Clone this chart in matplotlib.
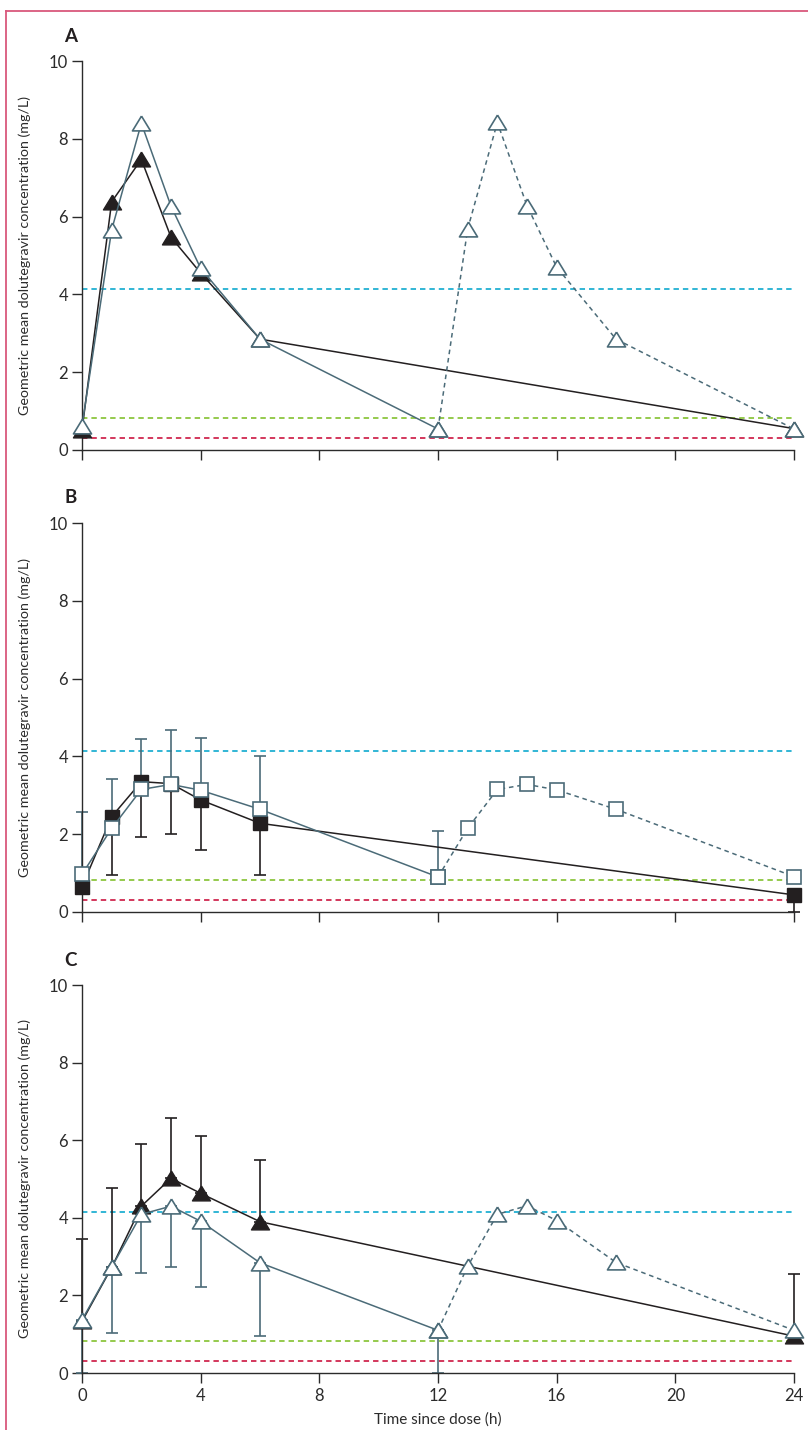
import matplotlib
matplotlib.use("Agg")
import numpy as np
import matplotlib.pyplot as plt
from matplotlib.lines import Line2D

plt.rcParams['font.family'] = ['Lato', 'DejaVu Sans']

# sampling times (h)
t_first = [0, 1, 2, 3, 4, 6, 12]
t_second = [12, 13, 14, 15, 16, 18, 24]
t_black = [0, 1, 2, 3, 4, 6, 24]

# panel A
a_black = [0.52, 6.38, 7.47, 5.47, 4.55, 2.85, 0.55]
a_open = [0.62, 5.66, 8.40, 6.27, 4.67, 2.85, 0.54]
a_open_next = [0.54, 5.68, 8.42, 6.28, 4.70, 2.85, 0.54]

# panel B
b_black = [0.65, 2.45, 3.35, 3.30, 2.88, 2.28, 0.44]
b_black_low = [0.65, 0.95, 1.92, 2.00, 1.59, 0.95, 0.0]
b_open = [0.97, 2.15, 3.15, 3.28, 3.13, 2.64, 0.90]
b_open_high = [2.58, 3.43, 4.45, 4.67, 4.48, 4.01, 2.08]
b_open_next = [0.90, 2.15, 3.15, 3.28, 3.14, 2.64, 0.91]

# panel C
c_black = [1.33, 2.72, 4.30, 5.02, 4.63, 3.90, 0.95]
c_black_high = [3.45, 4.78, 5.90, 6.57, 6.12, 5.50, 2.55]
c_open = [1.37, 2.73, 4.09, 4.30, 3.91, 2.84, 1.10]
c_open_low = [0.0, 1.02, 2.58, 2.74, 2.22, 0.95, 0.0]
c_open_next = [1.10, 2.75, 4.09, 4.31, 3.93, 2.85, 1.10]

# reference concentrations (mg/L)
ref_levels = [4.14, 0.82, 0.32]
ref_colors = ['#21b0d2', '#8cc63f', '#d0284f']

x_ticks = [0, 4, 8, 12, 16, 20, 24]
y_ticks = [0, 2, 4, 6, 8, 10]

BLACK = '#231f20'
SLATE = '#4b6b78'
TEXT = '#2b2b2b'

tri = [(0, 0.82), (-1, -0.82), (1, -0.82), (0, 0.82)]

fig = plt.figure(figsize=(8.08, 14.3), dpi=100)

left, width = 82 / 808, 712 / 808
boxes = [(450, 61), (912, 523), (1373, 985)]
letters = ['A', 'B', 'C']
letter_y = [37, 498, 960]


def make_axes(bottom_px, top_px):
    ax = fig.add_axes([left, 1 - bottom_px / 1430, width, (bottom_px - top_px) / 1430])
    ax.set_xlim(0, 24)
    ax.set_ylim(0, 10)
    for s in ['top', 'right']:
        ax.spines[s].set_visible(False)
    for s in ['left', 'bottom']:
        ax.spines[s].set_color(TEXT)
        ax.spines[s].set_linewidth(1.0)
    ax.set_xticks(x_ticks)
    ax.set_yticks(y_ticks)
    ax.tick_params(axis='both', length=7, width=1.0, color=TEXT,
                   labelcolor=TEXT, labelsize=12)
    ax.tick_params(axis='y', pad=3)
    ax.set_ylabel('Geometric mean dolutegravir concentration (mg/L)',
                  fontsize=10.3, color=TEXT)
    ax.yaxis.set_label_coords(-0.072, 0.5)
    for lvl, col in zip(ref_levels, ref_colors):
        ax.plot([0, 24], [lvl, lvl], color=col, lw=1.3, ls=(0, (3, 2.2)), zorder=1)
    return ax


def draw_series(ax, marker, black, opn, opn_next, msize):
    ax.plot(t_black, black, color=BLACK, lw=1.1, marker=marker, ms=msize,
            mfc=BLACK, mec=BLACK, mew=1.0, clip_on=False, zorder=3)
    ax.plot(t_second, opn_next, color=SLATE, lw=1.1, ls=(0, (3, 2.5)),
            marker=marker, ms=msize, mfc='white', mec=SLATE, mew=1.2,
            clip_on=False, zorder=4)
    ax.plot(t_first, opn, color=SLATE, lw=1.1, marker=marker, ms=msize,
            mfc='white', mec=SLATE, mew=1.2, clip_on=False, zorder=5)


axes = []
for (b, t), letter, ly in zip(boxes, letters, letter_y):
    ax = make_axes(b, t)
    axes.append(ax)
    fig.text(64 / 808, 1 - ly / 1430, letter, fontsize=13.5, fontweight='bold',
             color=BLACK, va='center', ha='left')

axA, axB, axC = axes

# A
draw_series(axA, tri, a_black, a_open, a_open_next, 13)
axA.set_xticklabels([])

# B
bb = np.array(b_black)
bo = np.array(b_open)
axB.errorbar(t_black, bb, yerr=[bb - np.array(b_black_low), np.zeros_like(bb)],
             fmt='none', ecolor=BLACK, elinewidth=1.2, capsize=4.5, capthick=1.2,
             clip_on=False, zorder=2)
axB.errorbar(t_first, bo, yerr=[np.zeros_like(bo), np.array(b_open_high) - bo],
             fmt='none', ecolor=SLATE, elinewidth=1.2, capsize=4.5, capthick=1.2,
             clip_on=False, zorder=2)
draw_series(axB, 's', b_black, b_open, b_open_next, 10)
axB.set_xticklabels([])

# C
cb = np.array(c_black)
co = np.array(c_open)
axC.errorbar(t_black, cb, yerr=[np.zeros_like(cb), np.array(c_black_high) - cb],
             fmt='none', ecolor=BLACK, elinewidth=1.2, capsize=4.5, capthick=1.2,
             clip_on=False, zorder=2)
axC.errorbar(t_first, co, yerr=[co - np.array(c_open_low), np.zeros_like(co)],
             fmt='none', ecolor=SLATE, elinewidth=1.2, capsize=4.5, capthick=1.2,
             clip_on=False, zorder=2)
draw_series(axC, tri, c_black, c_open, c_open_next, 13)
axC.set_xlabel('Time since dose (h)', fontsize=11, color=TEXT, labelpad=6)

# frame edge of the original figure box
fig.add_artist(Line2D([6 / 808, 6 / 808], [0, 1 - 11 / 1430], color='#d9587c',
                      lw=1.3, transform=fig.transFigure))
fig.add_artist(Line2D([6 / 808, 1], [1 - 11 / 1430, 1 - 11 / 1430], color='#d9587c',
                      lw=1.3, transform=fig.transFigure))

fig.savefig('out.png', dpi=100)
